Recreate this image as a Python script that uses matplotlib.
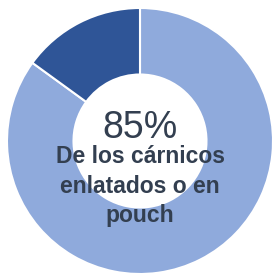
import matplotlib
matplotlib.use('Agg')
import matplotlib.pyplot as plt

###data###
labels = ['Enlatados o pouch', 'Otros']
values = [85, 15]
colors = ['#8FAADC', '#2F5597']
center_value = '85%'
center_lines = ['De los cárnicos', 'enlatados o en', 'pouch']

###figure###
W, H = 272, 275
cx, cy, r = 140, 141, 133   # pixel centre and outer radius

fig = plt.figure(figsize=(W / 100, H / 100), dpi=100)
ax = fig.add_axes([0, 0, 1, 1])
ax.pie(values, colors=colors, startangle=90, counterclock=False,
       radius=1, wedgeprops=dict(width=0.5, edgecolor='white', linewidth=1.5))
ax.set_aspect('auto')
ax.set_xlim(-cx / r, (W - cx) / r)
ax.set_ylim(-(H - cy) / r, cy / r)
ax.axis('off')

txt_color = '#333F50'
ax.text(0, 0.023, center_value, ha='center', va='baseline', fontsize=27,
        color=txt_color, family='Liberation Sans')
for y, line in zip([-0.165, -0.39, -0.61], center_lines):
    ax.text(0, y, line, ha='center', va='baseline', fontsize=16.5,
            color=txt_color, family='Liberation Sans', fontweight='bold')

plt.savefig('out.png', dpi=100)
